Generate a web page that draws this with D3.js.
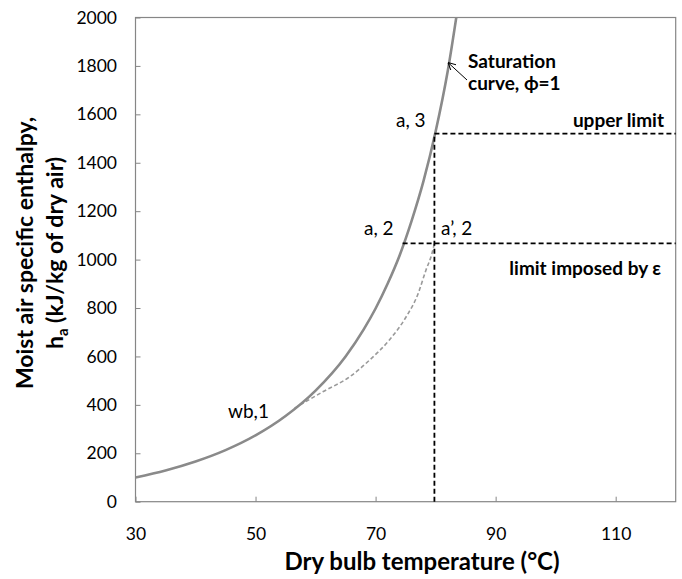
<!DOCTYPE html>
<html>
<head>
<meta charset="utf-8">
<script src="https://cdn.jsdelivr.net/npm/d3@7"></script>
<style>
  body { margin: 0; background: #fff; }
  text { font-family: Lato, "Open Sans", sans-serif; fill: #000; }
</style>
</head>
<body>
<svg width="682" height="579"></svg>
<script>
// saturation curve (phi = 1)
var satTemp = [30, 35, 40, 45, 50, 55, 60, 65, 68, 70, 72, 74, 76, 78, 80, 82, 84];
var satEnth = [100, 129, 166, 213, 274, 354, 459, 600, 711, 798, 900, 1017, 1160, 1326, 1529, 1776, 2092];

// dashed path from wb,1 up to a',2
var pathTemp = [56.5, 61.2, 65.7, 69.0, 72.3, 75.1, 77.0, 78.4, 79.4, 79.8];
var pathEnth = [386, 454, 516, 585, 668, 764, 854, 957, 1026, 1067];

var xTicks = [30, 50, 70, 90, 110];
var yTicks = [0, 200, 400, 600, 800, 1000, 1200, 1400, 1600, 1800, 2000];

var tA3 = 79.8, hUpper = 1520;   // a,3  -> upper limit
var tA2 = 74.5, hEps = 1067;     // a,2  -> limit imposed by eps

var svg = d3.select("svg"),
    margin = {top: 17.5, right: 6.3, bottom: 77.3, left: 135.5},
    width = +svg.attr("width") - margin.left - margin.right,
    height = +svg.attr("height") - margin.top - margin.bottom,
    g = svg.append("g").attr("transform", "translate(" + margin.left + "," + margin.top + ")");

var x = d3.scaleLinear().domain([30, 120]).range([0, width]);
var y = d3.scaleLinear().domain([0, 2000]).range([height, 0]);

var axisColor = "#868686";

// axes
var xAxis = g.append("g")
        .attr("transform", "translate(0," + height + ")")
        .call(d3.axisBottom(x).tickValues(xTicks).tickFormat(d3.format("d"))
                .tickSizeInner(-5).tickSizeOuter(0).tickPadding(26));
var yAxis = g.append("g")
        .call(d3.axisLeft(y).tickValues(yTicks).tickFormat(d3.format("d"))
                .tickSizeInner(-5).tickSizeOuter(0).tickPadding(18.5));

[xAxis, yAxis].forEach(function (a) {
    a.select(".domain").remove();
    a.selectAll("line").attr("stroke", axisColor);
    a.selectAll("text")
            .style("font-family", "Lato, sans-serif")
            .style("font-size", "17.5px")
            .attr("fill", "#000");
});

// frame
g.append("rect")
        .attr("width", width)
        .attr("height", height)
        .attr("fill", "none")
        .attr("stroke", axisColor)
        .attr("stroke-width", 1.2);

g.append("clipPath").attr("id", "clip")
        .append("rect").attr("width", width).attr("height", height);

var line = d3.line()
        .x(function (d) { return x(d[0]); })
        .y(function (d) { return y(d[1]); })
        .curve(d3.curveMonotoneX);

// dashed grey process path
g.append("path")
        .datum(d3.zip(pathTemp, pathEnth))
        .attr("d", line)
        .attr("fill", "none")
        .attr("stroke", "#9a9a9a")
        .attr("stroke-width", 1.6)
        .attr("stroke-dasharray", "4,2.5");

// saturation curve
g.append("path")
        .datum(d3.zip(satTemp, satEnth))
        .attr("clip-path", "url(#clip)")
        .attr("d", line)
        .attr("fill", "none")
        .attr("stroke", "#8a8a8a")
        .attr("stroke-width", 2.6);

// black dashed limits
var limits = [
    [[tA3, 0], [tA3, hUpper]],
    [[tA3, hUpper], [120, hUpper]],
    [[tA2, hEps], [120, hEps]]
];
g.selectAll(".limit")
        .data(limits)
        .enter().append("line")
        .attr("class", "limit")
        .attr("x1", function (d) { return x(d[0][0]); })
        .attr("y1", function (d) { return y(d[0][1]); })
        .attr("x2", function (d) { return x(d[1][0]); })
        .attr("y2", function (d) { return y(d[1][1]); })
        .attr("stroke", "#000")
        .attr("stroke-width", 1.8)
        .attr("stroke-dasharray", "5,3");

// arrow to the saturation curve
svg.append("defs").append("marker")
        .attr("id", "arr")
        .attr("viewBox", "0 0 10 10")
        .attr("refX", 9).attr("refY", 5)
        .attr("markerWidth", 8).attr("markerHeight", 8)
        .attr("orient", "auto")
        .append("path")
        .attr("d", "M0,0 L10,5 L0,10")
        .attr("fill", "none")
        .attr("stroke", "#000")
        .attr("stroke-width", 1.2);

svg.append("line")
        .attr("x1", 467).attr("y1", 80)
        .attr("x2", 448.5).attr("y2", 63)
        .attr("stroke", "#000")
        .attr("stroke-width", 1)
        .attr("marker-end", "url(#arr)");

// annotations
var notes = [
    {t: "Saturation", x: 468, y: 68, a: "start", b: true},
    {t: "curve, \u03d5=1", x: 468, y: 90, a: "start", b: true},
    {t: "upper limit", x: 664, y: 126.5, a: "end", b: true},
    {t: "a, 3", x: 396, y: 126.5, a: "start", b: false},
    {t: "a, 2", x: 364, y: 235, a: "start", b: false},
    {t: "a\u2019, 2", x: 441, y: 235, a: "start", b: false},
    {t: "limit imposed by \u03b5", x: 661, y: 275, a: "end", b: true},
    {t: "wb,1", x: 228, y: 418, a: "start", b: false}
];
svg.selectAll(".note")
        .data(notes)
        .enter().append("text")
        .attr("class", "note")
        .attr("x", function (d) { return d.x; })
        .attr("y", function (d) { return d.y; })
        .attr("text-anchor", function (d) { return d.a; })
        .style("font-size", "19px")
        .style("font-weight", function (d) { return d.b ? "bold" : "normal"; })
        .text(function (d) { return d.t; });

// axis titles
svg.append("text")
        .attr("x", 422).attr("y", 570)
        .attr("text-anchor", "middle")
        .style("font-size", "24px")
        .style("font-weight", "bold")
        .text("Dry bulb temperature (\u00b0C)");

var yt = svg.append("text")
        .attr("transform", "translate(0,253) rotate(-90)")
        .attr("text-anchor", "middle")
        .style("font-size", "23px")
        .style("font-weight", "bold");
yt.append("tspan").attr("x", 0).attr("y", 33).text("Moist air specific enthalpy,");
yt.append("tspan").attr("x", 0).attr("y", 63).text("h");
yt.append("tspan").attr("dy", 5).style("font-size", "15px").text("a");
yt.append("tspan").attr("dy", -5).text(" (kJ/kg of dry air)");
</script>
</body>
</html>
